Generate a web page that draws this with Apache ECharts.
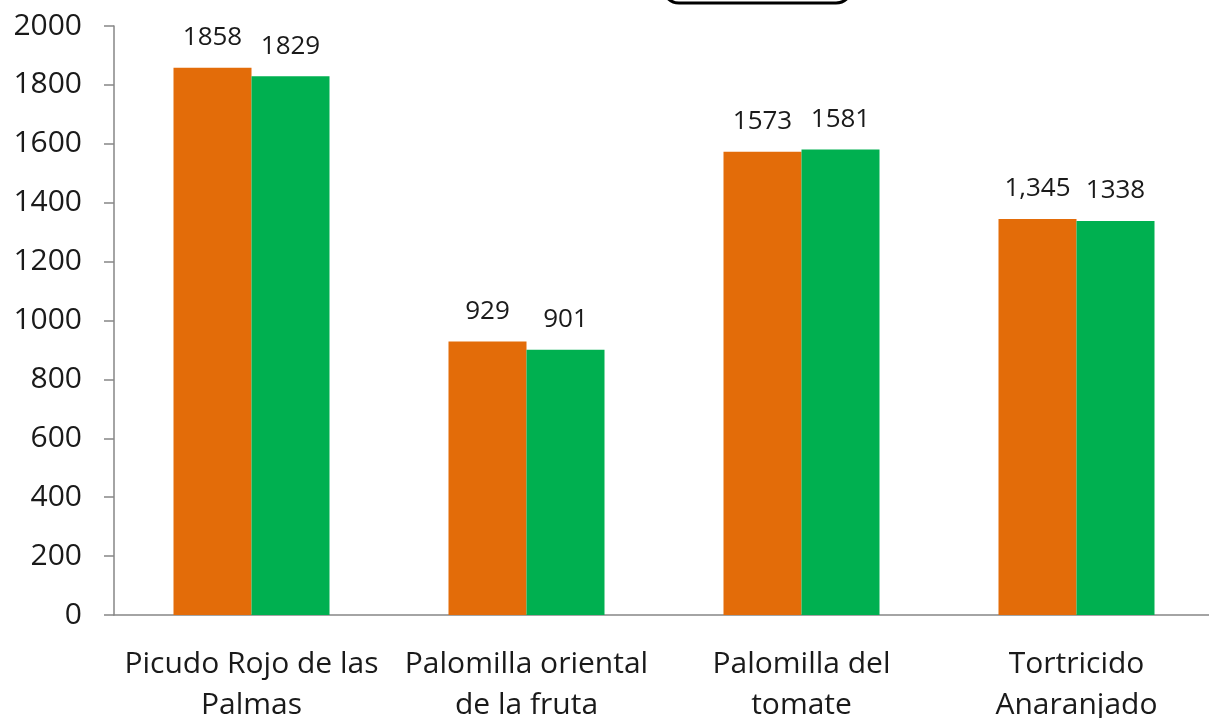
<!DOCTYPE html>
<html><head><meta charset="utf-8">
<script src="https://cdn.jsdelivr.net/npm/echarts@6/dist/echarts.min.js"></script>
<style>html,body{margin:0;padding:0;background:#fff}#c{width:1209px;height:718px}</style>
</head><body><div id="c"></div>
<script>
var categories = ["Picudo Rojo de las\nPalmas", "Palomilla oriental\nde la fruta", "Palomilla del\ntomate", "Tortricido\nAnaranjado"];
var orangeValues = [1858, 929, 1573, 1345];
var greenValues = [1829, 901, 1581, 1338];
var orangeLabels = ["1858", "929", "1573", "1,345"];
var greenLabels = ["1829", "901", "1581", "1338"];
var yTicks = [0, 200, 400, 600, 800, 1000, 1200, 1400, 1600, 1800, 2000];

var chart = echarts.init(document.getElementById('c'));
var font = 'Open Sans';
chart.setOption({
  animation: false,
  backgroundColor: '#fff',
  grid: { left: 114, top: 26, width: 1100, height: 589, containLabel: false, outerBoundsMode: 'none' },
  graphic: [{
    type: 'rect', shape: { x: 663, y: -45, width: 189, height: 48, r: 16 },
    style: { fill: '#fff', stroke: '#000', lineWidth: 3 }
  }],
  xAxis: {
    type: 'category', data: categories,
    axisLine: { lineStyle: { color: '#868686', width: 1.5 } },
    axisTick: { length: 10, lineStyle: { color: '#868686', width: 1.5 } },
    axisLabel: { interval: 0, margin: 29, fontFamily: font, fontSize: 30, lineHeight: 41, color: '#1a1a1a' }
  },
  yAxis: {
    type: 'value', min: yTicks[0], max: yTicks[yTicks.length - 1], interval: 200,
    axisLine: { show: true, lineStyle: { color: '#868686', width: 1.5 } },
    axisTick: { show: true, length: 10, lineStyle: { color: '#868686', width: 1.5 } },
    splitLine: { show: false },
    axisLabel: { margin: 32, fontFamily: font, fontSize: 30, color: '#1a1a1a',
      formatter: function (v) { return String(v); } }
  },
  series: [{
    type: 'bar', data: orangeValues, barWidth: 78, barGap: '0%',
    itemStyle: { color: '#E36C09' },
    label: { show: true, position: 'top', distance: 17, fontFamily: font, fontSize: 26, color: '#1a1a1a',
      formatter: function (p) { return orangeLabels[p.dataIndex]; } }
  }, {
    type: 'bar', data: greenValues, barWidth: 78, barGap: '0%',
    itemStyle: { color: '#00B050' },
    label: { show: true, position: 'top', distance: 17, fontFamily: font, fontSize: 26, color: '#1a1a1a',
      formatter: function (p) { return greenLabels[p.dataIndex]; } }
  }]
});
</script></body></html>
